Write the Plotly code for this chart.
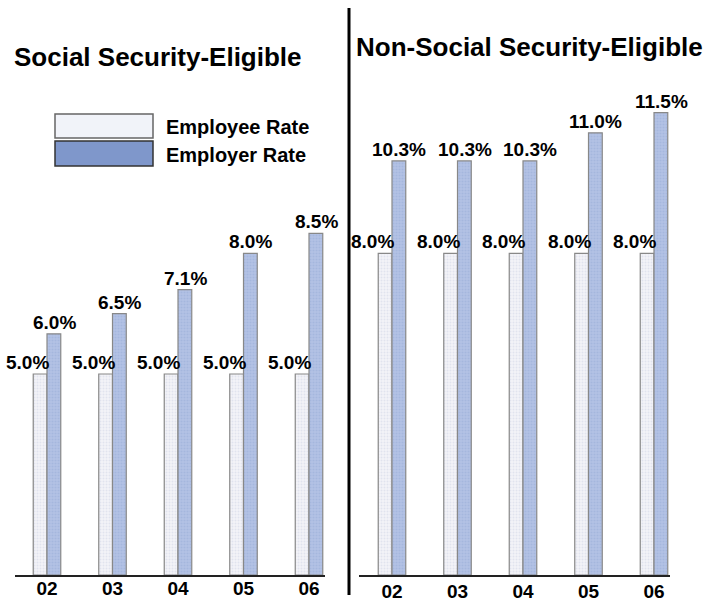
import plotly.graph_objects as go

years = ["02", "03", "04", "05", "06"]
ss_employee = [5.0, 5.0, 5.0, 5.0, 5.0]
ss_employer = [6.0, 6.5, 7.1, 8.0, 8.5]
nss_employee = [8.0, 8.0, 8.0, 8.0, 8.0]
nss_employer = [10.3, 10.3, 10.3, 11.0, 11.5]
panel_titles = ["Social Security-Eligible", "Non-Social Security-Eligible"]
series_names = ["Employee Rate", "Employer Rate"]

W, H = 703, 607
FONT = "Liberation Sans, Arial, sans-serif"
EMP_BG, EMP_FG = "#f2f3f8", "#cfd4e4"
ER_BG, ER_FG = "#b3c2e4", "#97abd6"
EDGE = "#888888"

def px_x(p):
    return p / W

def px_y(p):
    return 1 - p / H

def bfont(size):
    return dict(family=FONT, size=size, color="#000000", weight="bold")

fig = go.Figure()

panels = [
    ("x", "y", ss_employee, ss_employer),
    ("x2", "y2", nss_employee, nss_employer),
]
for xa, ya, emp, er in panels:
    fig.add_trace(go.Bar(
        x=years, y=emp, name=series_names[0], xaxis=xa, yaxis=ya,
        marker=dict(color=EMP_BG, line=dict(color=EDGE, width=1.2),
                    pattern=dict(shape=".", bgcolor=EMP_BG, fgcolor=EMP_FG,
                                 size=3, solidity=0.35)),
        showlegend=False, hoverinfo="skip"))
    fig.add_trace(go.Bar(
        x=years, y=er, name=series_names[1], xaxis=xa, yaxis=ya,
        marker=dict(color=ER_BG, line=dict(color=EDGE, width=1.2),
                    pattern=dict(shape=".", bgcolor=ER_BG, fgcolor=ER_FG,
                                 size=3, solidity=0.35)),
        showlegend=False, hoverinfo="skip"))

# value labels (x given as category index)
annotations = []
for xr, yr, emp, er in panels:
    for i in range(len(years)):
        annotations.append(dict(
            x=i, y=emp[i], xref=xr, yref=yr, text=f"{emp[i]:.1f}%",
            showarrow=False, xanchor="center", yanchor="bottom",
            xshift=-19.5, yshift=-1, font=bfont(19)))
        annotations.append(dict(
            x=i, y=er[i], xref=xr, yref=yr, text=f"{er[i]:.1f}%",
            showarrow=False, xanchor="center", yanchor="bottom",
            xshift=7, yshift=-1, font=bfont(19)))

# panel titles
annotations.append(dict(x=px_x(158), y=px_y(57), xref="paper", yref="paper",
                        text=panel_titles[0], showarrow=False,
                        xanchor="center", yanchor="middle", font=bfont(26)))
annotations.append(dict(x=px_x(529), y=px_y(47), xref="paper", yref="paper",
                        text=panel_titles[1], showarrow=False,
                        xanchor="center", yanchor="middle", font=bfont(26)))

# legend text
annotations.append(dict(x=px_x(164), y=px_y(127), xref="paper", yref="paper",
                        text=series_names[0], showarrow=False,
                        xanchor="left", yanchor="middle", font=bfont(20)))
annotations.append(dict(x=px_x(164), y=px_y(155), xref="paper", yref="paper",
                        text=series_names[1], showarrow=False,
                        xanchor="left", yanchor="middle", font=bfont(20)))

shapes = [
    dict(type="rect", xref="paper", yref="paper",
         x0=px_x(55), x1=px_x(153), y0=px_y(138), y1=px_y(114),
         fillcolor="#f1f3f9", line=dict(color="#666666", width=1.5)),
    dict(type="rect", xref="paper", yref="paper",
         x0=px_x(55), x1=px_x(153), y0=px_y(166), y1=px_y(141),
         fillcolor="#7f97cb", line=dict(color="#333333", width=1.5)),
    dict(type="line", xref="paper", yref="paper",
         x0=px_x(349), x1=px_x(349), y0=px_y(8), y1=px_y(595),
         line=dict(color="#000000", width=3)),
]

base_y = 575
top_y = 90
scale = 40.2
yrange = [0, (base_y - top_y) / scale]
ydom = [px_y(base_y), px_y(top_y)]

spacing = 65.5
def xrange_for(left, right, first_center):
    return [-(first_center - left) / spacing,
            4 + (right - (first_center + 4 * spacing)) / spacing]

common_x = dict(type="category", showline=True, linecolor="#222222", linewidth=1.8,
                showgrid=False, zeroline=False, ticks="", tickfont=bfont(19),
                fixedrange=True)
common_y = dict(visible=False, range=yrange, domain=ydom, showgrid=False,
                zeroline=False, fixedrange=True)

fig.update_layout(
    width=W, height=H,
    margin=dict(l=0, r=0, t=0, b=0),
    paper_bgcolor="white", plot_bgcolor="white",
    barmode="group", bargap=0.58, bargroupgap=0,
    xaxis=dict(domain=[px_x(15), px_x(325)], anchor="y", ticklabelstandoff=-5,
               range=xrange_for(15, 325, 47), **common_x),
    xaxis2=dict(domain=[px_x(359), px_x(670)], anchor="y2", ticklabelstandoff=-2,
                range=xrange_for(359, 670, 392), **common_x),
    yaxis=dict(anchor="x", **common_y),
    yaxis2=dict(anchor="x2", **common_y),
    annotations=annotations,
    shapes=shapes,
    showlegend=False,
    font=dict(family=FONT),
)

fig.write_html("out.html", config={"displayModeBar": False},
               post_script="document.body.style.margin='0';")
